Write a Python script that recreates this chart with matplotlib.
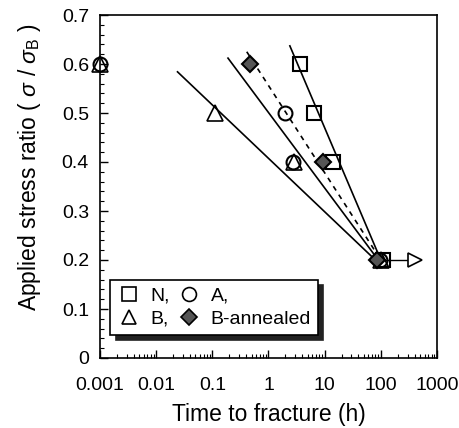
import matplotlib
matplotlib.use('Agg')
import numpy as np
import matplotlib.pyplot as plt
from matplotlib.ticker import MultipleLocator, LogLocator, NullFormatter

plt.rcParams['font.family'] = ['Liberation Sans', 'DejaVu Sans']
plt.rcParams['mathtext.fontset'] = 'custom'
plt.rcParams['mathtext.rm'] = 'Liberation Sans'
plt.rcParams['mathtext.it'] = 'Liberation Sans:italic'

# data (time in h, stress ratio)
n_time = [3.6, 6.5, 14, 110]
n_ratio = [0.6, 0.5, 0.4, 0.2]
a_time = [0.001, 2.0, 2.7, 95]
a_ratio = [0.6, 0.5, 0.4, 0.2]
b_time = [0.001, 0.11, 2.8, 100]
b_ratio = [0.6, 0.5, 0.4, 0.2]
ba_time = [0.46, 9.3, 85]
ba_ratio = [0.6, 0.4, 0.2]
b_runout = [100, 400]  # arrow from the 100 h point (no fracture)

# fitted lines (end points)
n_fit = ([2.4, 100], [0.637, 0.2])
a_fit = ([0.19, 90], [0.612, 0.2])
b_fit = ([0.024, 80], [0.584, 0.2])
ba_fit = ([0.41, 100], [0.625, 0.2])

xtick_vals = [0.001, 0.01, 0.1, 1, 10, 100, 1000]
xtick_labels = ['0.001', '0.01', '0.1', '1', '10', '100', '1000']
ytick_vals = [0, 0.1, 0.2, 0.3, 0.4, 0.5, 0.6, 0.7]
ytick_labels = ['0', '0.1', '0.2', '0.3', '0.4', '0.5', '0.6', '0.7']

fig = plt.figure(figsize=(4.6, 4.28), dpi=100)
ax = fig.add_axes([100/460, 70/428, 337/460, 343/428])

# lines
ax.plot(*n_fit, color='black', lw=1.2)
ax.plot(*a_fit, color='black', lw=1.2)
ax.plot(*b_fit, color='black', lw=1.2)
ax.plot(*ba_fit, color='black', lw=1.2, ls=(0, (3, 3)))

# run-out arrow
ax.plot(b_runout, [0.2, 0.2], color='black', lw=1.0, zorder=2)
ax.plot(b_runout[-1], 0.2, marker='>', ms=10, mfc='white', mec='black', mew=1.2, zorder=3)

ms = 10
ax.plot(n_time, n_ratio, 's', ms=ms, mfc='none', mec='black', mew=1.5, clip_on=False, zorder=4)
ax.plot(a_time, a_ratio, 'o', ms=ms, mfc='none', mec='black', mew=1.5, clip_on=False, zorder=4)
ax.plot(b_time, b_ratio, '^', ms=ms + 1, mfc='none', mec='black', mew=1.2, clip_on=False, zorder=4)
ax.plot(ba_time, ba_ratio, 'D', ms=8, mfc='#555555', mec='black', mew=1.5, clip_on=False, zorder=5)

ax.set_xscale('log')
ax.set_xlim(0.001, 1000)
ax.set_ylim(0, 0.7)
ax.set_xticks(xtick_vals)
ax.set_xticklabels(xtick_labels)
ax.xaxis.set_minor_locator(LogLocator(base=10, subs=np.arange(2, 10), numticks=20))
ax.xaxis.set_minor_formatter(NullFormatter())
ax.set_yticks(ytick_vals)
ax.set_yticklabels(ytick_labels)
ax.yaxis.set_minor_locator(MultipleLocator(0.02))

ax.tick_params(which='both', direction='in', labelsize=14, top=False, right=False)
ax.tick_params(which='major', length=6, width=1)
ax.tick_params(axis='x', which='major', pad=14)
ax.tick_params(axis='y', which='major', pad=8)
ax.tick_params(which='minor', length=3, width=0.8)
for sp in ax.spines.values():
    sp.set_linewidth(1.2)

ax.set_xlabel('Time to fracture (h)', fontsize=16.5, labelpad=6)
ax.set_ylabel('Applied stress ratio ( $\\sigma$ / $\\sigma_{\\mathrm{B}}$ )', fontsize=16.5)
ax.yaxis.set_label_coords(-0.17, 0.555)

# legend: two columns
h_n, = ax.plot([], [], 's', ms=ms, mfc='none', mec='black', mew=1.2)
h_a, = ax.plot([], [], 'o', ms=ms, mfc='none', mec='black', mew=1.2)
h_b, = ax.plot([], [], '^', ms=ms, mfc='none', mec='black', mew=1.2)
h_ba, = ax.plot([], [], 'D', ms=8, mfc='#555555', mec='black', mew=1.2)
leg = ax.legend([h_n, h_b, h_a, h_ba], ['N,', 'B,', 'A,', 'B-annealed'], ncol=2,
                loc='lower left', bbox_to_anchor=(0.002, 0.04), fontsize=14,
                frameon=True, fancybox=False, edgecolor='black',
                shadow={'color': '#222222', 'alpha': 1.0, 'ox': 4, 'oy': -4},
                handlelength=1.2, handletextpad=0.5, columnspacing=0.4,
                borderpad=0.35, labelspacing=0.3)
leg.get_frame().set_linewidth(1.2)

fig.savefig('out.png', dpi=100)
